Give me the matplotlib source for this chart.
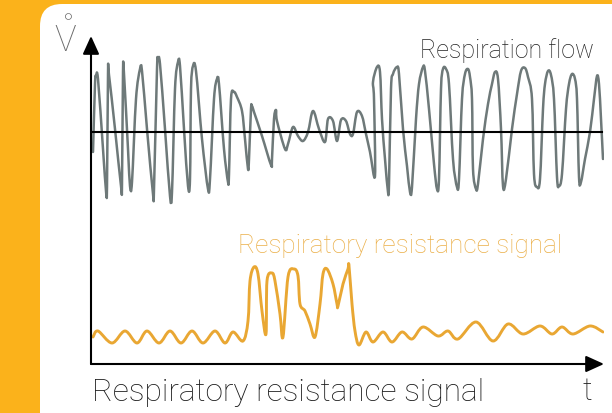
import matplotlib
matplotlib.use('Agg')
from matplotlib import pyplot as plt
from matplotlib.patches import FancyBboxPatch, PathPatch
from matplotlib.path import Path
import numpy as np

# respiration flow (time, flow relative to the zero line)
flow_t = [2, 4, 5, 7, 12, 15, 16, 17, 18, 24, 30, 31, 32, 33, 37, 39, 41, 45, 49, 51,
          56, 62, 63, 66, 67, 69, 74, 79, 81, 84, 87, 89, 93, 97, 99, 100, 102, 105, 111, 117,
          119, 123, 126, 128, 133, 137, 138, 140, 143, 146, 151, 154, 157, 158, 160, 161, 163, 171, 180, 181,
          183, 185, 186, 194, 197, 202, 207, 212, 217, 222, 228, 234, 237, 242, 246, 250, 255, 259, 262, 266,
          271, 275, 279, 284, 283, 282, 286, 289, 291, 294, 297, 298, 300, 302, 306, 308, 312, 316, 319, 321,
          325, 328, 332, 334, 338, 343, 346, 348, 350, 352, 355, 358, 362, 366, 368, 371, 374, 377, 379, 381,
          382, 385, 387, 392, 397, 401, 404, 407, 410, 412, 415, 421, 426, 430, 434, 437, 441, 443, 446, 449,
          452, 454, 457, 460, 463, 466, 468, 471, 475, 478, 481, 484, 486, 488, 490, 494, 499, 503, 506, 508,
          510, 512]
flow_v = [-20, 48, 56, 53, -17, -59, -55, 58, 57, 3, -54, -52, 60, 58, -17, -54, -50, 33, 63, 61,
          3, -62, -57, 63, 73, 68, 3, -64, -60, 43, 70, 66, 3, -54, -47, 43, 66, 61, -7, -57,
          -47, 33, 53, 48, -17, -50, -42, 33, 40, 35, 21, -7, -37, -27, 23, 26, 20, -4, -33, -27,
          13, 22, 11, -17, -12, 5, -4, -9, 0, 21, 3, -10, 13, 11, -9, 12, 11, -2, -2, 20,
          16, -2, -20, -44, 33, 50, 65, 60, 13, -27, -60, -52, 43, 58, 65, 58, 3, -34, -60, -55,
          13, 48, 65, 61, 23, -32, -57, -47, 43, 63, 63, 48, -27, -55, -47, 33, 58, 63, 55, 33,
          -37, -57, -52, -7, 28, 48, 60, 53, 3, -54, -47, 3, 38, 61, 64, 55, 33, -42, -55, -47,
          23, 48, 61, 57, 33, -45, -54, -42, 23, 48, 58, 53, 33, -45, -50, -27, 0, 33, 56, 48,
          13, -27]

# respiratory resistance signal (time, height above the time axis)
res_t = [2, 7, 21, 34, 46, 56, 68, 79, 90, 101, 112, 124, 134, 142, 152,
         157, 159, 163, 167, 171, 175, 176, 181, 184, 189, 192, 197, 203, 207, 209,
         214, 219, 224, 229, 232, 236, 242, 246, 247, 252, 257, 258, 261, 264, 268,
         275, 282, 292, 301, 311, 321, 332, 347, 357, 367, 385, 402, 417, 432, 449,
         461, 471, 482, 499, 512]
res_v = [27, 33, 21, 33, 21, 33, 21, 33, 21, 33, 21, 33, 21, 32, 23,
         43, 83, 97, 90, 53, 30, 83, 91, 83, 50, 27, 87, 95, 88, 60,
         53, 40, 27, 60, 90, 95, 80, 60, 58, 80, 95, 98, 60, 33, 19,
         32, 22, 32, 22, 32, 25, 37, 28, 33, 25, 42, 23, 40, 30, 38,
         30, 37, 30, 38, 32]

flow_label = 'Respiration flow'
res_label = 'Respiratory resistance signal'
x_label = 'Respiratory resistance signal'
y_label = r'$\mathring{\mathrm{V}}$'
t_label = 't'

FLOW_BASE = 232  # height of the flow zero line above the time axis
ORANGE_BG = '#FBB21B'
ORANGE = '#E9A733'
GRAY = '#6E7979'

plt.rcParams['font.family'] = ['Roboto', 'DejaVu Sans']
plt.rcParams['mathtext.fontset'] = 'custom'
plt.rcParams['mathtext.rm'] = 'Roboto:light'


def smooth_path(xs, ys):
    # catmull-rom through the points, drawn as cubic bezier pieces
    pts = np.column_stack([xs, ys]).astype(float)
    p = np.vstack([pts[0], pts, pts[-1]])
    verts = [pts[0]]
    codes = [Path.MOVETO]
    for i in range(1, len(p) - 2):
        p0, p1, p2, p3 = p[i - 1], p[i], p[i + 1], p[i + 2]
        verts += [p1 + (p2 - p0) / 6, p2 - (p3 - p1) / 6, p2]
        codes += [Path.CURVE4] * 3
    return Path(verts, codes)


fig = plt.figure(figsize=(6.12, 4.14), dpi=100)
fig.patch.set_facecolor(ORANGE_BG)

# background panel, pixel coordinates
bg = fig.add_axes([0, 0, 1, 1])
bg.set_xlim(0, 612)
bg.set_ylim(414, 0)
bg.axis('off')
bg.add_patch(FancyBboxPatch((40, 5), 640, 432, boxstyle='round,pad=0,rounding_size=22',
                            fc='white', ec='none'))

ax = fig.add_axes([91 / 612, 49 / 414, 513 / 612, 328 / 414])
ax.set_xlim(0, 513)
ax.set_ylim(0, 328)
ax.axis('off')
ax.patch.set_alpha(0)

ax.add_patch(PathPatch(smooth_path(flow_t, np.array(flow_v) + FLOW_BASE), fc='none', ec=GRAY,
                       lw=1.8, joinstyle='round', capstyle='round'))
ax.axhline(FLOW_BASE, xmin=0, xmax=511 / 513, color='black', lw=1.5)
ax.add_patch(PathPatch(smooth_path(res_t, res_v), fc='none', ec=ORANGE, lw=2.1,
                       joinstyle='round', capstyle='round'))

arrow = dict(arrowstyle='-|>,head_length=0.55,head_width=0.25', mutation_scale=20,
             color='black', lw=1.5, shrinkA=0, shrinkB=0)
ax.annotate('', xy=(0, 1), xytext=(0, 0), xycoords='axes fraction', arrowprops=arrow,
            annotation_clip=False)
ax.annotate('', xy=(1, 0), xytext=(0, 0), xycoords='axes fraction', arrowprops=arrow,
            annotation_clip=False)

bg.text(65, 52, y_label, ha='center', va='baseline', fontsize=26, color='#6a6a6a')
bg.text(594, 51, flow_label, ha='right', va='center', fontsize=18, color='#222222', fontweight='light')
bg.text(400, 246, res_label, ha='center', va='center', fontsize=18.8, color='#EBB04A', fontweight='light')
bg.text(92, 393, x_label, ha='left', va='center', fontsize=22.8, color='#1a1a1a', fontweight='light')
bg.text(587, 392, t_label, ha='center', va='center', fontsize=22, color='#1a1a1a', fontweight='light')

fig.savefig('out.png', dpi=100, facecolor=fig.get_facecolor())
